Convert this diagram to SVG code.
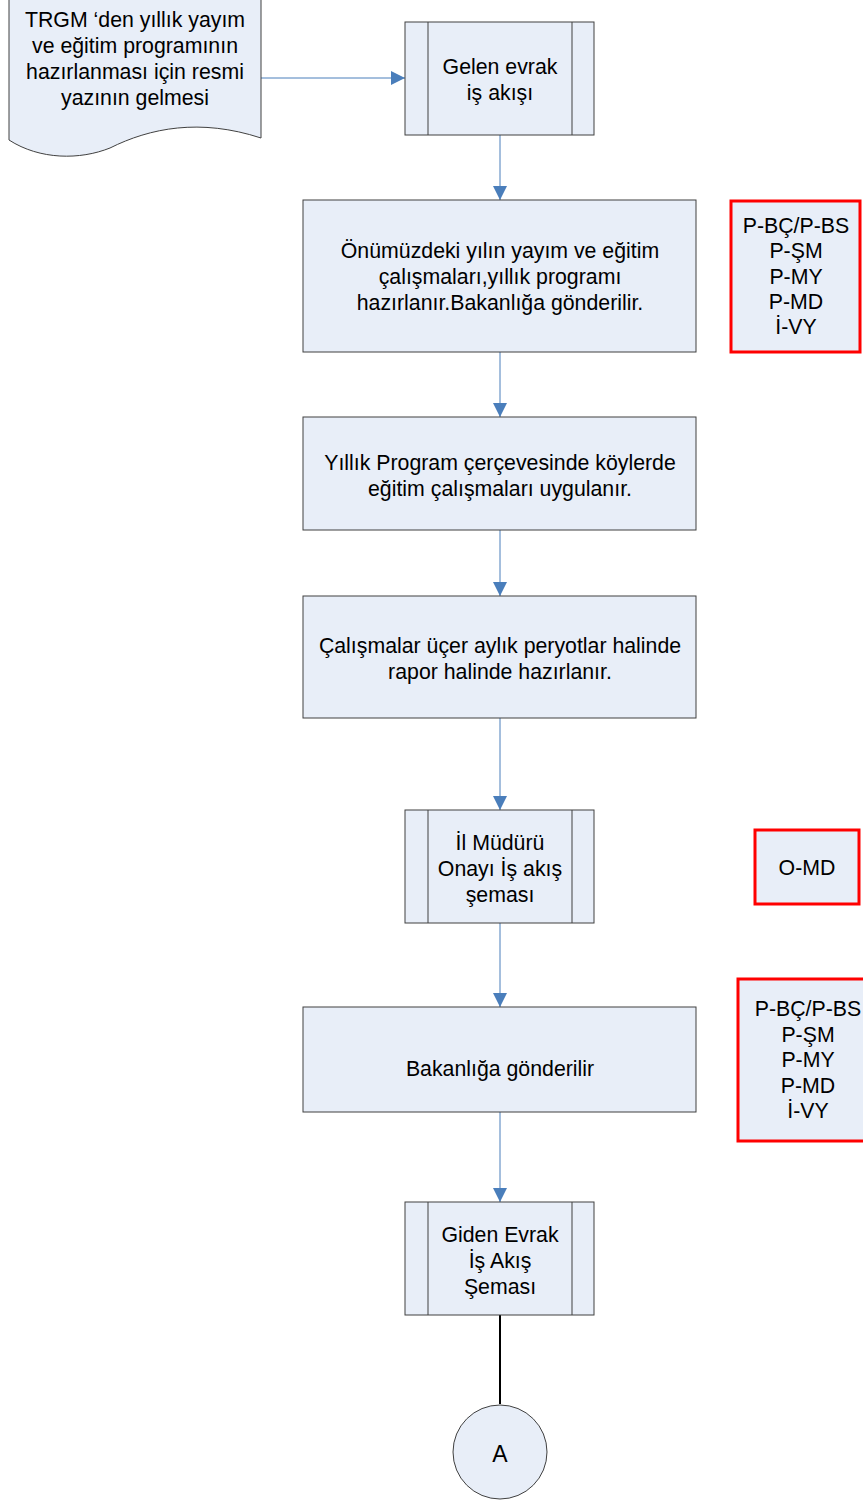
<svg xmlns="http://www.w3.org/2000/svg" width="863" height="1500" viewBox="0 0 863 1500">
<defs>
<style>
.n{fill:#E8EEF8;stroke:#404040;stroke-width:1}
.r{fill:#E8EEF8;stroke:#FF0000;stroke-width:3}
.t{font-family:"Liberation Sans",Arial,sans-serif;font-size:21.3px;fill:#000;text-anchor:middle}
.c{stroke:#4A7EBB;stroke-width:1;fill:none}
</style>
<marker id="ah" viewBox="0 0 14 14" refX="14" refY="7" markerWidth="14" markerHeight="14" markerUnits="userSpaceOnUse" orient="auto">
<path d="M0,0 L14,7 L0,14 Z" fill="#4A7EBB"/>
</marker>
</defs>
<rect width="863" height="1500" fill="#fff"/>
<g id="connectors">
<path class="c" d="M261,78 H405" marker-end="url(#ah)"/>
<path class="c" d="M500,135 V200" marker-end="url(#ah)"/>
<path class="c" d="M500,352 V417" marker-end="url(#ah)"/>
<path class="c" d="M500,530 V596" marker-end="url(#ah)"/>
<path class="c" d="M500,718 V810" marker-end="url(#ah)"/>
<path class="c" d="M500,923 V1007" marker-end="url(#ah)"/>
<path class="c" d="M500,1112 V1202" marker-end="url(#ah)"/>
<path d="M500,1315 V1404" stroke="#000" stroke-width="2" fill="none"/>
</g>
<g id="doc">
<path class="n" d="M9,-2 H261 V138 C200,118 150,128 110,148 C80,160 40,160 9,140 Z"/>
<text class="t"><tspan x="135" y="27">TRGM ‘den yıllık yayım</tspan><tspan x="135" y="53">ve eğitim programının</tspan><tspan x="135" y="79">hazırlanması için resmi</tspan><tspan x="135" y="105">yazının gelmesi</tspan></text>
</g>
<g id="gelen">
<rect class="n" x="405" y="22" width="189" height="113"/>
<path class="n" d="M428,22 V135 M572,22 V135"/>
<text class="t"><tspan x="500" y="74">Gelen evrak</tspan><tspan x="500" y="100">iş akışı</tspan></text>
</g>
<g id="hazirla">
<rect class="n" x="303" y="200" width="393" height="152"/>
<text class="t"><tspan x="500" y="258">Önümüzdeki yılın yayım ve eğitim</tspan><tspan x="500" y="284">çalışmaları,yıllık programı</tspan><tspan x="500" y="310">hazırlanır.Bakanlığa gönderilir.</tspan></text>
</g>
<g id="sorumlu1">
<rect class="r" x="731" y="201" width="129" height="151"/>
<text class="t"><tspan x="796" y="233">P-BÇ/P-BS</tspan><tspan x="796" y="258">P-ŞM</tspan><tspan x="796" y="284">P-MY</tspan><tspan x="796" y="309">P-MD</tspan><tspan x="796" y="334">İ-VY</tspan></text>
</g>
<g id="uygula">
<rect class="n" x="303" y="417" width="393" height="113"/>
<text class="t"><tspan x="500" y="470">Yıllık Program çerçevesinde köylerde</tspan><tspan x="500" y="496">eğitim çalışmaları uygulanır.</tspan></text>
</g>
<g id="rapor">
<rect class="n" x="303" y="596" width="393" height="122"/>
<text class="t"><tspan x="500" y="653">Çalışmalar üçer aylık peryotlar halinde</tspan><tspan x="500" y="679">rapor halinde hazırlanır.</tspan></text>
</g>
<g id="onay">
<rect class="n" x="405" y="810" width="189" height="113"/>
<path class="n" d="M428,810 V923 M572,810 V923"/>
<text class="t"><tspan x="500" y="850">İl Müdürü</tspan><tspan x="500" y="876">Onayı İş akış</tspan><tspan x="500" y="902">şeması</tspan></text>
</g>
<g id="sorumlu2">
<rect class="r" x="755" y="830" width="104" height="74"/>
<text class="t" x="807" y="875">O-MD</text>
</g>
<g id="bakanlik">
<rect class="n" x="303" y="1007" width="393" height="105"/>
<text class="t" x="500" y="1076">Bakanlığa gönderilir</text>
</g>
<g id="sorumlu3">
<rect class="r" x="738" y="979" width="130" height="162"/>
<text class="t"><tspan x="808" y="1016">P-BÇ/P-BS</tspan><tspan x="808" y="1042">P-ŞM</tspan><tspan x="808" y="1067">P-MY</tspan><tspan x="808" y="1093">P-MD</tspan><tspan x="808" y="1118">İ-VY</tspan></text>
</g>
<g id="giden">
<rect class="n" x="405" y="1202" width="189" height="113"/>
<path class="n" d="M428,1202 V1315 M572,1202 V1315"/>
<text class="t"><tspan x="500" y="1242">Giden Evrak</tspan><tspan x="500" y="1268">İş Akış</tspan><tspan x="500" y="1294">Şeması</tspan></text>
</g>
<g id="baglanti">
<circle class="n" cx="500" cy="1452" r="47"/>
<text class="t" x="500" y="1462" style="font-size:23px">A</text>
</g>
</svg>
